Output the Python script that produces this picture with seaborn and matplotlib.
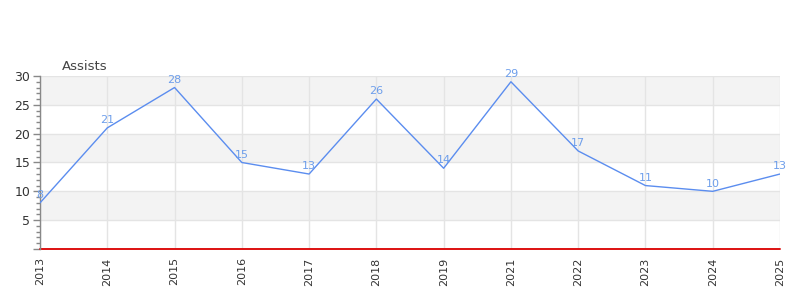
import matplotlib
matplotlib.use("Agg")
import matplotlib.pyplot as plt
import seaborn as sns
import pandas as pd
from matplotlib.ticker import MultipleLocator

years = ["2013", "2014", "2015", "2016", "2017", "2018", "2019", "2021", "2022", "2023", "2024", "2025"]
assists = [8, 21, 28, 15, 13, 26, 14, 29, 17, 11, 10, 13]

sns.set_theme(style="white")
plt.rcParams['font.family'] = ['DejaVu Sans']

df = pd.DataFrame({"year": years, "assists": assists})

fig = plt.figure(figsize=(8, 3), dpi=100)
ax = fig.add_axes([0.05, 0.17, 0.925, 0.5767])

# alternating bands
for lo in range(0, 30, 5):
    if (lo // 5) % 2 == 1:
        ax.axhspan(lo, lo + 5, color="#f3f3f3", zorder=0, lw=0)

sns.lineplot(data=df, x="year", y="assists", ax=ax, color="#5b8def", linewidth=1.0, zorder=3, sort=False)

for i, v in enumerate(assists):
    ax.annotate(str(v), (i, v), xytext=(0, 2), textcoords="offset points",
                ha="center", va="bottom", fontsize=8, color="#6d9eeb", zorder=4)

ax.set_xlim(0, len(years) - 1)
ax.set_ylim(0, 30)
ax.yaxis.set_major_locator(MultipleLocator(5))
ax.yaxis.set_minor_locator(MultipleLocator(1))
ax.set_yticks([0, 5, 10, 15, 20, 25, 30])
ax.set_yticklabels(["", "5", "10", "15", "20", "25", "30"])
ax.set_xticks(range(len(years)))
ax.set_xticklabels(years, rotation=90)
ax.grid(True, which="major", color="#e4e4e4", linewidth=1, zorder=1)
ax.set_axisbelow(True)
ax.set_xlabel("")
ax.set_ylabel("")

for s in ["top", "right", "bottom"]:
    ax.spines[s].set_visible(False)
ax.spines["left"].set_color("#888888")
ax.spines["left"].set_linewidth(1)

ax.axhline(0, color="#dd1111", linewidth=1.4, zorder=2.1, clip_on=False)

ax.tick_params(axis="y", which="major", length=5, width=1, color="#888888", labelsize=9, labelcolor="#333333", left=True, pad=2)
ax.tick_params(axis="y", which="minor", length=3, width=1, color="#888888", left=True)
ax.tick_params(axis="x", which="major", length=0, labelsize=8, labelcolor="#333333", pad=6)

fig.text(62 / 800, 1 - 66 / 300, "Assists", fontsize=9.5, color="#444444", ha="left", va="center")

fig.savefig("out.png", dpi=100)
